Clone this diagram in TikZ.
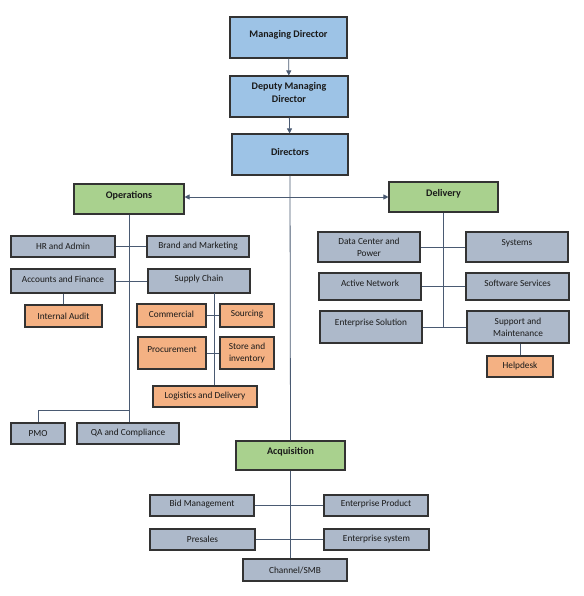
\documentclass[tikz,border=0pt]{standalone}
\usepackage{fontspec}
\setmainfont{Carlito}
\usetikzlibrary{arrows.meta}
\definecolor{cblue}{HTML}{9DC3E6}
\definecolor{cgreen}{HTML}{A9D18E}
\definecolor{cgray}{HTML}{ADB9CA}
\definecolor{corange}{HTML}{F4B183}
\definecolor{cline}{HTML}{4A5A72}
\definecolor{cborder}{HTML}{333333}
\definecolor{ctext}{HTML}{1A1A1A}
\newcommand\txtup[2]{\raisebox{#1}[\height][\depth]{#2}}
\newcommand\twol[2]{\begin{tabular}{@{}c@{}}#1\\#2\end{tabular}}
\tikzset{
  box/.style={draw=cborder, line width=1.1pt, inner sep=1pt, align=center, text=ctext, font=\fontsize{9.3}{12.3}\selectfont},
  topbox/.style={box, fill=cblue, font=\fontsize{10.1}{12.3}\selectfont\bfseries},
  headbox/.style={box, fill=cgreen, font=\fontsize{10.1}{12.3}\selectfont\bfseries},
  graybox/.style={box, fill=cgray},
  orbox/.style={box, fill=corange},
  conn/.style={draw=cline, line width=0.8pt},
  arr/.style={conn, -{Triangle[length=5pt,width=5pt]}},
  wh/.style 2 args={minimum width=#1pt, minimum height=#2pt},
}
\begin{document}
\begin{tikzpicture}[x=1pt,y=-1pt]
\useasboundingbox (0,0) rectangle (583,596);
% top
\node[topbox,wh={117}{41}] (md) at (288.5,37.5) {\txtup{2.5pt}{Managing Director}};
\node[topbox,wh={118}{41}] (dmd) at (289,96.5) {\txtup{3pt}{\twol{Deputy Managing}{Director}}};
\node[topbox,wh={116}{41}] (dir) at (290,154.5) {\txtup{3pt}{Directors}};
% heads
\node[headbox,wh={110}{30}] (ops) at (129,199) {\txtup{3pt}{Operations}};
\node[headbox,wh={109}{30}] (del) at (443.5,197) {\txtup{3pt}{Delivery}};
\node[headbox,wh={109}{29}] (acq) at (290.5,455.5) {\txtup{3.5pt}{Acquisition}};
% operations
\node[graybox,wh={104}{21}] (hr) at (63,246.5) {HR and Admin};
\node[graybox,wh={102}{21}] (brand) at (198,246.5) {Brand and Marketing};
\node[graybox,wh={104}{24}] (acc) at (63,281) {\txtup{2pt}{Accounts and Finance}};
\node[graybox,wh={102}{24}] (sc) at (199,281) {\txtup{2pt}{Supply Chain}};
\node[orbox,wh={77}{22}] (ia) at (63.5,316) {Internal Audit};
\node[orbox,wh={69}{23}] (com) at (171.5,315.5) {\txtup{1pt}{Commercial}};
\node[orbox,wh={54}{23}] (src) at (247,315.5) {\txtup{1pt}{Sourcing}};
\node[orbox,wh={68}{32}] (proc) at (172,353) {\txtup{3pt}{Procurement}};
\node[orbox,wh={54}{32}] (store) at (247,353) {Store and\\inventory};
\node[orbox,wh={104}{21}] (log) at (205,396.5) {Logistics and Delivery};
\node[graybox,wh={54}{21}] (pmo) at (38,433.5) {PMO};
\node[graybox,wh={102}{21}] (qa) at (128,433.5) {QA and Compliance};
% delivery
\node[graybox,wh={102}{30}] (dc) at (369,247) {Data Center and\\Power};
\node[graybox,wh={102}{30}] (sys) at (517,247) {\txtup{4pt}{Systems}};
\node[graybox,wh={102}{27}] (an) at (370,286.5) {\txtup{3.5pt}{Active Network}};
\node[graybox,wh={103}{27}] (ss) at (517.5,286.5) {\txtup{3.5pt}{Software Services}};
\node[graybox,wh={102}{32}] (es) at (371,327) {\txtup{4pt}{Enterprise Solution}};
\node[graybox,wh={102}{32}] (sm) at (518,327) {Support and\\Maintenance};
\node[orbox,wh={66}{21}] (hd) at (520,366.5) {Helpdesk};
% acquisition
\node[graybox,wh={104}{21}] (bid) at (202,505.5) {\txtup{1pt}{Bid Management}};
\node[graybox,wh={104}{21}] (ep) at (376,505.5) {\txtup{1pt}{Enterprise Product}};
\node[graybox,wh={105}{21}] (pre) at (202.5,539.5) {Presales};
\node[graybox,wh={105}{21}] (esy) at (376.5,539.5) {Enterprise system};
\node[graybox,wh={104}{22}] (ch) at (295,570) {Channel/SMB};
% connectors top
\draw[arr] (md) -- (dmd);
\draw[arr] (dmd) -- (dir);
\draw[conn] (dir.south) -- (acq.north);
\draw[conn] (acq.south) -- (acq.south |- ch.north);
\coordinate (j1) at (290,197);
\draw[arr] (j1) -- (ops.east |- j1);
\draw[arr] (j1) -- (del.west |- j1);
% operations
\coordinate (pj) at (129,410);
\draw[conn] (ops.south) -- (ops.south |- qa.north);
\draw[conn] (pj) -- (pmo.north |- pj) -- (pmo.north);
\draw[conn] (hr.east) -- (brand.west);
\draw[conn] (acc.east) -- (sc.west);
\draw[conn] (acc.south) -- (acc.south |- ia.north);
\coordinate (scj) at (214,293);
\draw[conn] (scj) -- (scj |- log.north);
\draw[conn] (com.east) -- (src.west);
\draw[conn] (proc.east) -- (store.west);
% delivery
\draw[conn] (del.south) -- (del.south |- es.east);
\draw[conn] (dc.east) -- (sys.west);
\draw[conn] (an.east) -- (ss.west);
\draw[conn] (es.east) -- (sm.west);
\draw[conn] (sm.south -| hd.north) -- (hd.north);
% acquisition
\draw[conn] (bid.east) -- (ep.west);
\draw[conn] (pre.east) -- (esy.west);
\end{tikzpicture}
\end{document}
